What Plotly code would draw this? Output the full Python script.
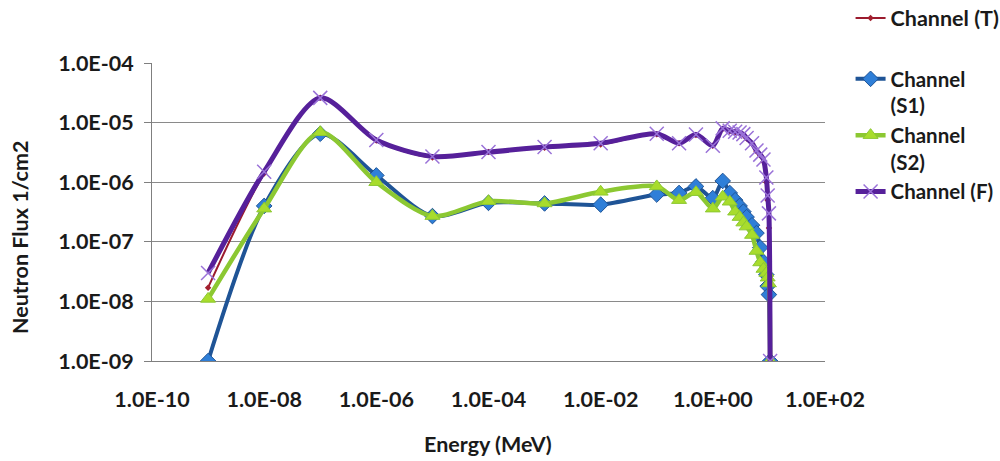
import plotly.graph_objects as go

# ---- data ----
energy = [1e-9, 1e-8, 1e-7, 1e-6, 1e-5, 1e-4, 1e-3, 1e-2, 1e-1, 0.25, 0.5, 1.0, 1.5,
          2.0, 2.5, 3.0, 3.5, 4.0, 5.0, 6.0, 7.0, 8.0, 9.0, 9.5, 10.0, 10.5]

flux_T = [1.7e-8, 1.4e-6, 2.6e-5, 5.0e-6, 2.6e-6, 3.2e-6, 3.8e-6, 4.3e-6, 6.4e-6, 4.5e-6,
          6.2e-6, 4.1e-6, 7.8e-6, 7.2e-6, 6.9e-6, 6.6e-6, 6.2e-6, 5.4e-6, 4.4e-6, 3.3e-6,
          2.8e-6, 2.2e-6, 1.0e-6, 5.0e-7, 1.7e-7, 1.0e-9]
flux_S1 = [1.0e-9, 4.0e-7, 6.5e-6, 1.3e-6, 2.7e-7, 4.5e-7, 4.4e-7, 4.2e-7, 6.2e-7, 6.6e-7,
           8.5e-7, 5.4e-7, 1.05e-6, 6.6e-7, 5.0e-7, 4.0e-7, 3.2e-7, 2.6e-7, 1.9e-7, 1.4e-7,
           8.0e-8, 4.6e-8, 2.8e-8, 1.8e-8, 1.3e-8, 1.0e-9]
flux_S2 = [1.1e-8, 3.6e-7, 6.9e-6, 1.0e-6, 2.7e-7, 4.8e-7, 4.4e-7, 6.9e-7, 8.5e-7, 5.0e-7,
           6.8e-7, 3.6e-7, 5.7e-7, 4.7e-7, 3.2e-7, 2.6e-7, 2.1e-7, 1.8e-7, 1.3e-7, 7.0e-8,
           4.5e-8, 3.5e-8, 3.0e-8, 2.5e-8, 2.0e-8, 1.0e-9]
flux_F = [3.0e-8, 1.5e-6, 2.6e-5, 5.1e-6, 2.7e-6, 3.2e-6, 3.9e-6, 4.5e-6, 6.5e-6, 4.5e-6,
          6.3e-6, 4.1e-6, 8.0e-6, 7.3e-6, 7.0e-6, 6.8e-6, 6.4e-6, 5.5e-6, 4.5e-6, 3.4e-6,
          2.9e-6, 2.4e-6, 1.2e-6, 6.0e-7, 3.0e-7, 1.0e-9]

series_names = ["Channel (T)", "Channel<br>(S1)", "Channel<br>(S2)", "Channel (F)"]

x_tick_vals = [1e-10, 1e-8, 1e-6, 1e-4, 1e-2, 1e0, 1e2]
x_tick_text = ["1.0E-10", "1.0E-08", "1.0E-06", "1.0E-04", "1.0E-02", "1.0E+00", "1.0E+02"]
y_tick_vals = [1e-9, 1e-8, 1e-7, 1e-6, 1e-5, 1e-4]
y_tick_text = ["1.0E-09", "1.0E-08", "1.0E-07", "1.0E-06", "1.0E-05", "1.0E-04"]

x_title = "Energy (MeV)"
y_title = "Neutron Flux 1/cm2"

FONT = "Lato"
FS = 21.5

fig = go.Figure()

fig.add_trace(go.Scatter(
    x=energy, y=flux_T, name=series_names[0], mode="lines+markers",
    line=dict(color="#9b1b2e", width=2, shape="spline", smoothing=0.8),
    marker=dict(symbol="diamond", size=5, color="#a3202f"),
    legend="legend",
))
fig.add_trace(go.Scatter(
    x=energy, y=flux_S1, name=series_names[1], mode="lines+markers",
    line=dict(color="#1f5496", width=4, shape="spline", smoothing=0.8),
    marker=dict(symbol="diamond", size=12, color="#2f7fd8",
                line=dict(color="#1f5496", width=1)),
    legend="legend2",
))
fig.add_trace(go.Scatter(
    x=energy, y=flux_S2, name=series_names[2], mode="lines+markers",
    line=dict(color="#8cc832", width=4.5, shape="spline", smoothing=0.8),
    marker=dict(symbol="triangle-up", size=13, color="#a8dc2c",
                line=dict(color="#8cc832", width=1)),
    legend="legend2",
))
fig.add_trace(go.Scatter(
    x=energy, y=flux_F, name=series_names[3], mode="lines+markers",
    line=dict(color="#56209a", width=5, shape="spline", smoothing=0.8),
    marker=dict(symbol="x-thin", size=14, color="#9a72d8",
                line=dict(color="#9a72d8", width=1.5)),
    legend="legend2",
))

axis_font = dict(family=FONT, size=FS, color="#1a1a1a", weight="bold")

fig.update_layout(
    width=1000, height=461,
    margin=dict(l=152, r=175, t=63, b=100, autoexpand=False),
    paper_bgcolor="white", plot_bgcolor="white",
    font=dict(family=FONT, size=FS, color="#1a1a1a"),
    xaxis=dict(
        type="log", range=[-10, 2], tickvals=x_tick_vals, ticktext=x_tick_text,
        showgrid=False, showline=True, linecolor="#7f7f7f", linewidth=1,
        ticks="", zeroline=False, tickfont=axis_font, ticklabelstandoff=19,
    ),
    yaxis=dict(
        type="log", range=[-9, -4], tickvals=y_tick_vals, ticktext=y_tick_text,
        showgrid=True, gridcolor="#8a8a8a", gridwidth=1,
        showline=True, linecolor="#7f7f7f", linewidth=1,
        ticks="outside", ticklen=7, tickcolor="#7f7f7f",
        zeroline=False, tickfont=axis_font, ticklabelstandoff=6,
    ),
    legend=dict(
        x=1.038, y=(361 - 18) / 298, xanchor="left", yanchor="middle",
        font=dict(family=FONT, size=FS, color="#1a1a1a", weight="bold"),
        bgcolor="rgba(0,0,0,0)", valign="top", tracegroupgap=0,
    ),
    legend2=dict(
        x=1.038, y=(361 - 59) / 298, xanchor="left", yanchor="top",
        font=dict(family=FONT, size=20.5, color="#1a1a1a", weight="bold"),
        bgcolor="rgba(0,0,0,0)", valign="top", tracegroupgap=0,
    ),
    showlegend=True,
    annotations=[
        dict(text=y_title, xref="paper", yref="paper",
             x=(20 - 152) / 673, y=(361 - 238) / 298, xanchor="center", yanchor="middle",
             textangle=-90, showarrow=False,
             font=dict(family=FONT, size=FS, color="#1a1a1a", weight="bold")),
        dict(text=x_title, xref="paper", yref="paper",
             x=(488 - 152) / 673, y=(361 - 444) / 298, xanchor="center", yanchor="middle",
             showarrow=False,
             font=dict(family=FONT, size=FS, color="#1a1a1a", weight="bold")),
    ],
)

fig.write_html("out.html")
